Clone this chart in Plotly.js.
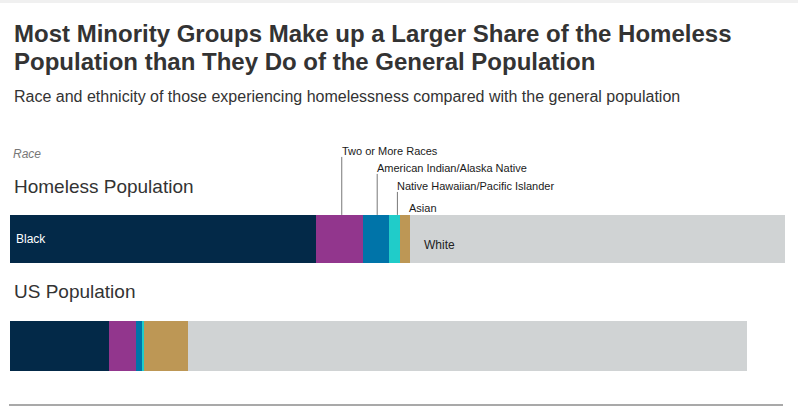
<!DOCTYPE html>
<html>
<head>
<meta charset="utf-8">
<script src="https://cdn.plot.ly/plotly-3.0.1.min.js"></script>
<style>
  html, body { margin: 0; padding: 0; background: #fff; }
  #chart { width: 798px; height: 407px; }
</style>
</head>
<body>
<div id="chart"></div>
<script>
// ---- Data (percent of each population) ----
const groups = ['Black', 'Two or More Races', 'American Indian/Alaska Native',
                'Native Hawaiian/Pacific Islander', 'Asian', 'White'];
const homelessShare = [39.5, 6.1, 3.3, 1.4, 1.3, 48.4];
const usShare = [12.8, 3.4, 0.9, 0.2, 5.7, 72.1];
const rowLabels = ['US Population', 'Homeless Population'];
const titleLines = ['Most Minority Groups Make up a Larger Share of the Homeless',
                    'Population than They Do of the General Population'];
const subtitle = 'Race and ethnicity of those experiencing homelessness compared with the general population';
const groupColors = ['#032948', '#92368d', '#0074a9', '#20ccc9', '#bd9755', '#d0d3d4'];

// ---- Layout geometry ----
const W = 798, H = 407;
const M = { l: 10, r: 13, t: 180, b: 0 };
const plotW = W - M.l - M.r, plotH = H - M.t - M.b;
const px2x = px => (px - M.l) / plotW;
const px2y = py => 1 - (py - M.t) / plotH;
const FONT = '"Liberation Sans", Arial, sans-serif';
const barWidths = [0.467, 0.45];

const traces = groups.map((g, i) => ({
  type: 'bar',
  orientation: 'h',
  name: g,
  y: [0, 1],
  x: [usShare[i], homelessShare[i]],
  width: barWidths,
  marker: { color: groupColors[i], line: { width: 0 } },
  hovertemplate: '%{x}%<extra>' + g + '</extra>'
}));

// cumulative starts for the homeless row
const starts = [];
homelessShare.reduce((acc, v, i) => { starts[i] = acc; return acc + v; }, 0);
const mid = i => starts[i] + homelessShare[i] / 2;
const barTop = 1 + barWidths[1] / 2;

const labelFont = { family: FONT, size: 11, color: '#1a1a1a' };
const titleFont = { family: FONT, size: 24, color: '#333333' };
const annotations = [
  { xref: 'paper', yref: 'paper', x: px2x(12), y: px2y(33.5), xanchor: 'left', yanchor: 'middle',
    showarrow: false, text: '<b>' + titleLines[0] + '</b>', font: titleFont },
  { xref: 'paper', yref: 'paper', x: px2x(12), y: px2y(61), xanchor: 'left', yanchor: 'middle',
    showarrow: false, text: '<b>' + titleLines[1] + '</b>', font: titleFont },
  { xref: 'paper', yref: 'paper', x: px2x(12), y: px2y(96), xanchor: 'left', yanchor: 'middle',
    showarrow: false, text: subtitle,
    font: { family: FONT, size: 16, color: '#333333' } },
  { xref: 'paper', yref: 'paper', x: px2x(11), y: px2y(154), xanchor: 'left', yanchor: 'middle',
    showarrow: false, text: '<i>Race</i>', font: { family: FONT, size: 12, color: '#777777' } },
  { xref: 'paper', yref: 'paper', x: px2x(12), y: px2y(186), xanchor: 'left', yanchor: 'middle',
    showarrow: false, text: rowLabels[1], font: { family: FONT, size: 19, color: '#333333' } },
  { xref: 'paper', yref: 'paper', x: px2x(12), y: px2y(291), xanchor: 'left', yanchor: 'middle',
    showarrow: false, text: rowLabels[0], font: { family: FONT, size: 19, color: '#333333' } },
  // in-bar labels
  { xref: 'x', yref: 'y', x: starts[0], y: 1, xanchor: 'left', yanchor: 'middle', xshift: 4, yshift: 0,
    showarrow: false, text: groups[0], font: { family: FONT, size: 12, color: '#ffffff' } },
  { xref: 'x', yref: 'y', x: starts[5], y: 1, xanchor: 'left', yanchor: 'middle', xshift: 12, yshift: -6,
    showarrow: false, text: groups[5], font: { family: FONT, size: 12, color: '#222222' } },
  // leader-line labels
  { xref: 'x', yref: 'y', x: mid(1), y: barTop, ax: 0, ay: -58, xshift: 2, showarrow: true,
    arrowhead: 0, arrowwidth: 1, arrowcolor: '#777777', xanchor: 'left', yanchor: 'bottom',
    borderpad: 0, borderwidth: 0, text: groups[1], font: labelFont },
  { xref: 'x', yref: 'y', x: mid(2), y: barTop, ax: 0, ay: -41, xshift: 1, showarrow: true,
    arrowhead: 0, arrowwidth: 1, arrowcolor: '#777777', xanchor: 'left', yanchor: 'bottom',
    borderpad: 0, borderwidth: 0, text: groups[2], font: labelFont },
  { xref: 'x', yref: 'y', x: mid(3), y: barTop, ax: 0, ay: -23, xshift: 3, showarrow: true,
    arrowhead: 0, arrowwidth: 1, arrowcolor: '#777777', xanchor: 'left', yanchor: 'bottom',
    borderpad: 0, borderwidth: 0, text: groups[3], font: labelFont },
  { xref: 'x', yref: 'y', x: starts[4], y: barTop, xanchor: 'left', yanchor: 'bottom', xshift: 9, yshift: 1,
    showarrow: false, borderpad: 0, borderwidth: 0, text: groups[4], font: labelFont }
];

const shapes = [
  { type: 'rect', xref: 'paper', yref: 'paper', x0: px2x(0), x1: px2x(W), y0: px2y(3), y1: px2y(0),
    fillcolor: '#f0f0f0', line: { width: 0 }, layer: 'below' },
  { type: 'line', xref: 'paper', yref: 'paper', x0: px2x(9), x1: px2x(783), y0: px2y(405), y1: px2y(405),
    line: { color: '#8c8c8c', width: 1.5 } }
];

const layout = {
  width: W, height: H,
  margin: M,
  barmode: 'stack',
  showlegend: false,
  paper_bgcolor: '#ffffff',
  plot_bgcolor: '#ffffff',
  xaxis: { range: [0, 100], visible: false, fixedrange: true },
  yaxis: { range: [-0.570, 1.5514], visible: false, fixedrange: true },
  annotations: annotations,
  shapes: shapes,
  font: { family: FONT }
};

Plotly.newPlot('chart', traces, layout, { displayModeBar: false });
</script>
</body>
</html>
